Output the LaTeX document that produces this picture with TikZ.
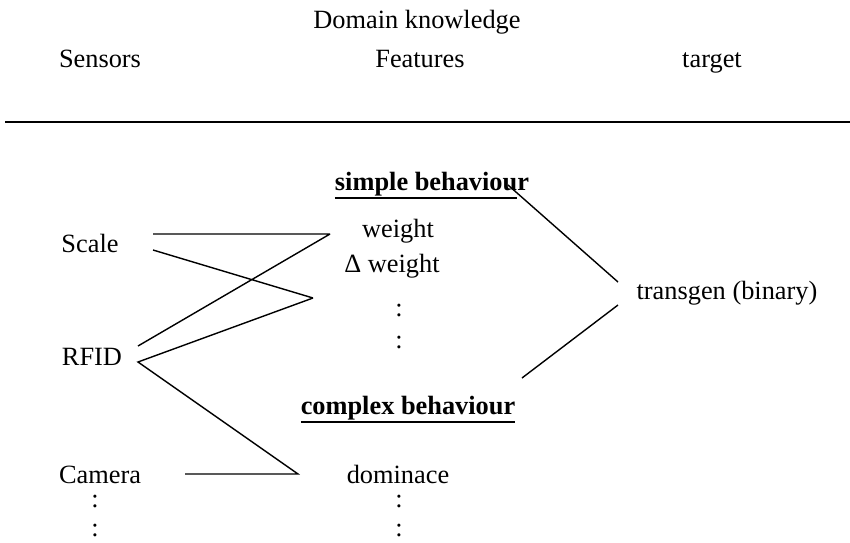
\documentclass[tikz,border=0pt]{standalone}
\usepackage{fontspec}
\setmainfont{Liberation Serif}
\newcommand{\thickul}[1]{\vtop{\hbox{#1}\kern0.9pt\hrule height 1.1pt}}

\begin{document}
\begin{tikzpicture}[x=0.02cm, y=-0.02cm,
    every node/.style={font=\fontsize{15}{18}\selectfont, inner sep=0pt, anchor=base},
    link/.style={line width=0.8pt}]
  \useasboundingbox (0,0) rectangle (850,542);
  % headings
  \node (domain)   at (417,28) {Domain knowledge};
  \node (sensors)  at (100,67) {Sensors};
  \node (features) at (420,67) {Features};
  \node (target)   at (712,67) {target};
  \coordinate (rule-l) at (5,122);
  \coordinate (rule-r) at (850,122);
  \draw [line width=1.1pt] (rule-l) -- (rule-r);
  % sensors
  \node (scale)  at (90,252)  {Scale};
  \node (rfid)   at (92,365)  {RFID};
  \node (camera) at (100,483) {Camera};
  \node (sdots1) at (95,507)  {:};
  \node (sdots2) at (95,536)  {:};
  % features
  \node (simple)   at (432,190) {\textbf{\thickul{simple behaviou}r}};
  \node (weight)   at (398,237) {weight};
  \node (dweight)  at (392,272) {Δ weight};
  \node (fdots1)   at (399,316) {:};
  \node (fdots2)   at (399,348) {:};
  \node (complex)  at (408,414) {\textbf{\thickul{complex behaviour}}};
  \node (dominace) at (398,483) {dominace};
  \node (fdots3)   at (399,507) {:};
  \node (fdots4)   at (399,536) {:};
  % target
  \node (transgen) at (727,299) {transgen (binary)};
  % line ends
  \coordinate (scale-a)     at (153,234);
  \coordinate (scale-b)     at (153,250);
  \coordinate (rfid-a)      at (138,346);
  \coordinate (rfid-b)      at (138,362);
  \coordinate (camera-out)  at (185,474);
  \coordinate (weight-in)   at (330,234);
  \coordinate (dweight-in)  at (313,298);
  \coordinate (dominace-in) at (298,474);
  \coordinate (simple-out)  at (508,185);
  \coordinate (complex-out) at (522,378);
  \coordinate (transgen-a)  at (618,282);
  \coordinate (transgen-b)  at (618,305);
  \draw [link] (scale-a) -- (weight-in)
               (scale-b) -- (dweight-in)
               (rfid-a) -- (weight-in)
               (dweight-in) -- (rfid-b) -- (dominace-in) -- (camera-out);
  \draw [link] (simple-out) -- (transgen-a)
               (complex-out) -- (transgen-b);
\end{tikzpicture}
\end{document}
